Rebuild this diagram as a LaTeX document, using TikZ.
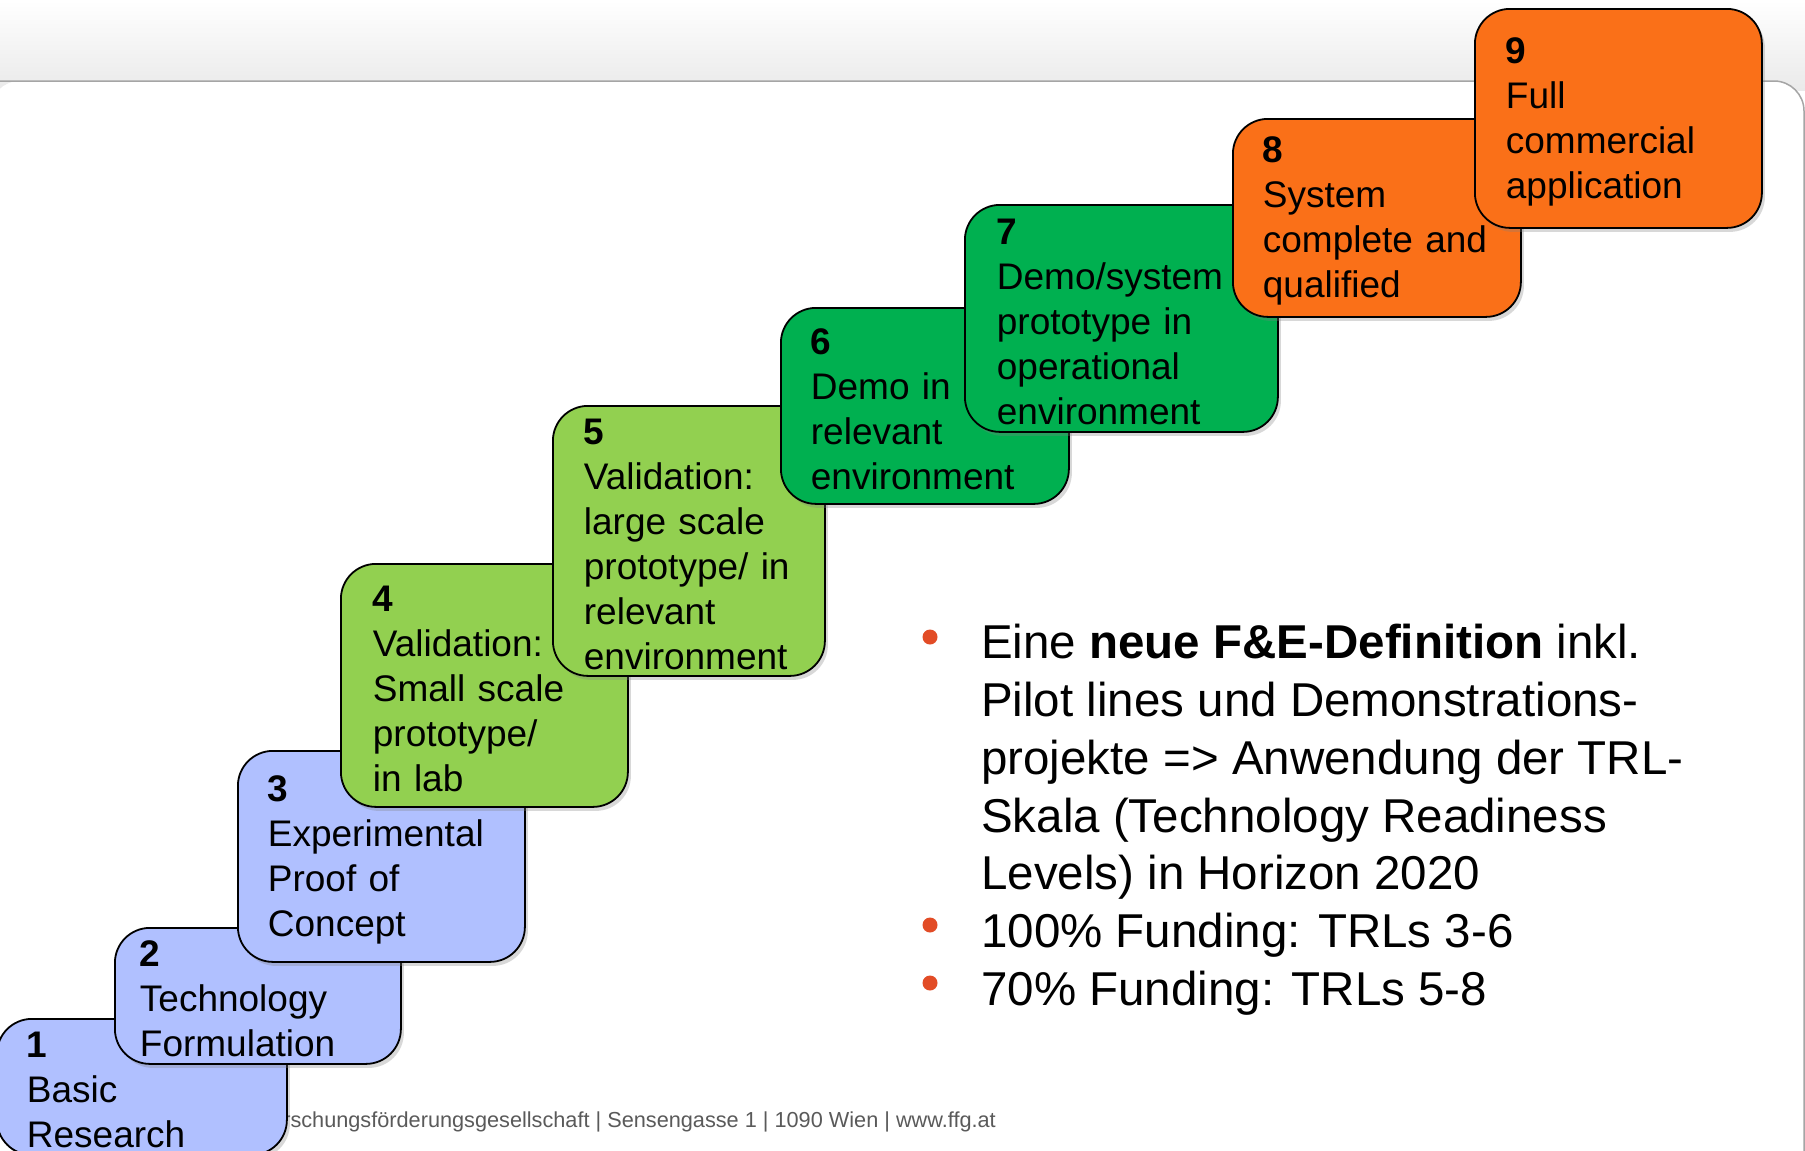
\documentclass[tikz,border=0pt]{standalone}
\usepackage{fontspec}
\setmainfont{Liberation Sans}
\usetikzlibrary{shadows}

\definecolor{trlblue}{RGB}{176,192,255}
\definecolor{trllime}{RGB}{146,208,80}
\definecolor{trlgreen}{RGB}{0,176,80}
\definecolor{trlorange}{RGB}{250,112,24}
\definecolor{bulletred}{RGB}{226,76,38}
\definecolor{footgray}{RGB}{90,90,90}
\definecolor{headgray}{RGB}{234,234,234}
\definecolor{linegray}{RGB}{165,165,165}

\tikzset{
  trlbox/.style={rectangle, draw=black, line width=1.8pt, rounded corners=35pt,
    anchor=north west, align=left, inner ysep=4pt,
    font=\fontsize{37}{45}\selectfont,
    execute at begin node=\rule{0pt}{32pt},
    drop shadow={shadow xshift=3pt, shadow yshift=-4pt, opacity=0.3}},
  itemtext/.style={align=left, inner sep=0pt, font=\fontsize{47.5}{57.8}\selectfont},
  bulletdot/.style={circle, fill=bulletred, minimum size=15pt, inner sep=0pt},
  footer/.style={inner sep=0pt, text=footgray, font=\fontsize{21.7}{25}\selectfont},
  pageline/.style={draw=linegray, line width=1.5pt}
}

\begin{document}
\begin{tikzpicture}[x=1pt, y=-1pt]
\useasboundingbox (0,0) rectangle (1805,1151);

% header band and page card
\shade[top color=white, bottom color=headgray] (0,0) rectangle (1805,90);
\fill[white, rounded corners=30pt] (-10,81) -| (1804,1200) -- (-10,1200) -- cycle;
\draw[pageline, rounded corners=30pt] (-10,81) -| (1804,1200);

% footer line
\node[footer, anchor=base east] (foot) at (996,1127) {Forschungsförderungsgesellschaft | Sensengasse 1 | 1090 Wien | www.ffg.at};

% the nine steps
\node[trlbox, fill=trlblue, text width=230pt, minimum height=136, inner xsep=30pt] (trl1) at (-4,1018) {\textbf{1}\\Basic\\Research};
\node[trlbox, fill=trlblue, text width=236pt, minimum height=136, inner xsep=25pt] (trl2) at (114,927) {\textbf{2}\\Technology\\Formulation};
\node[trlbox, fill=trlblue, text width=227pt, minimum height=211, inner xsep=30pt] (trl3) at (237,750) {\textbf{3}\\Experimental\\Proof of\\Concept};
\node[trlbox, fill=trllime, text width=223pt, minimum height=243, inner xsep=32pt] (trl4) at (340,563) {\textbf{4}\\Validation:\\Small scale\\prototype/\\in lab};
\node[trlbox, fill=trllime, text width=210pt, minimum height=270, inner xsep=31pt] (trl5) at (552,405) {\textbf{5}\\Validation:\\large scale\\prototype/ in\\relevant\\environment};
\node[trlbox, fill=trlgreen, text width=228pt, minimum height=196, inner xsep=30pt] (trl6) at (780,307) {\textbf{6}\\Demo in\\relevant\\environment};
\node[trlbox, fill=trlgreen, text width=249pt, minimum height=227, inner xsep=32pt] (trl7) at (964,204) {\textbf{7}\\Demo/system\\prototype in\\operational\\environment};
\node[trlbox, fill=trlorange, text width=228pt, minimum height=198, inner xsep=30pt] (trl8) at (1232,118) {\textbf{8}\\System\\complete and\\qualified};
\node[trlbox, fill=trlorange, text width=225pt, minimum height=219, inner xsep=31pt] (trl9) at (1474,8) {\textbf{9}\\Full\\commercial\\application};

% bullet list
\node[itemtext, anchor=north west] (items) at (981,624) {Eine \textbf{neue F\&E-Definition} inkl.\\Pilot lines und Demonstrations-\\projekte => Anwendung der TRL-\\Skala (Technology Readiness\\Levels) in Horizon 2020\\100\% Funding: TRLs 3-6\\70\% Funding: TRLs 5-8};
\node[bulletdot] (dot1) at (930,637) {};
\node[bulletdot] (dot2) at (930,925) {};
\node[bulletdot] (dot3) at (930,983) {};
\end{tikzpicture}
\end{document}
